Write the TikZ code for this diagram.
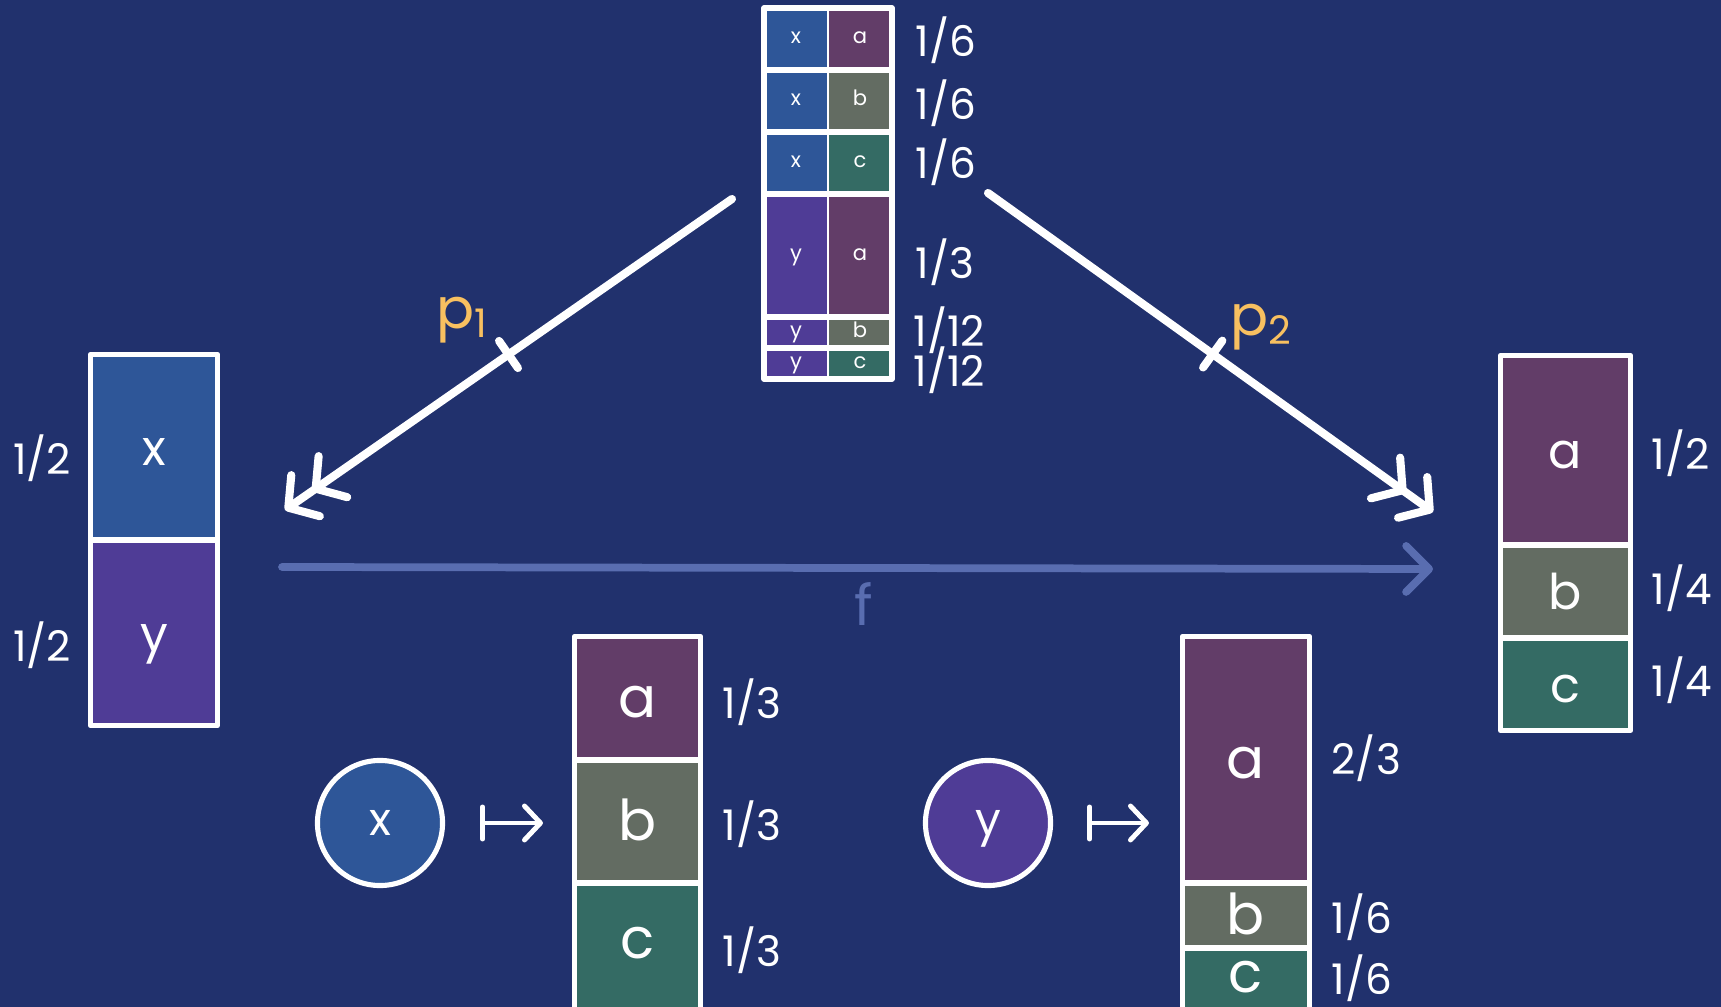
\documentclass[tikz,border=0pt]{standalone}
\usepackage{fontspec}
\setmainfont{Poppins}
\usetikzlibrary{arrows.meta,calc}
\definecolor{bgnavy}{HTML}{21316D}
\definecolor{cx}{HTML}{2E5698}
\definecolor{cy}{HTML}{4F3C96}
\definecolor{ca}{HTML}{623D68}
\definecolor{cb}{HTML}{636C62}
\definecolor{cc}{HTML}{346B64}
\definecolor{fblue}{HTML}{596DB0}
\definecolor{plabel}{HTML}{F8C060}
\tikzset{
  cell/.style={inner sep=0pt, outer sep=0pt, text=white, text depth=0pt},
  tinycell/.style={cell, text height=2.8pt, font=\fontsize{6}{7}\selectfont},
  midcell/.style={cell, text height=10.5pt, font=\fontsize{14}{16}\selectfont},
  bigcell/.style={cell, text height=10.8pt, font=\fontsize{16}{18}\selectfont},
  frac/.style={text=white, inner sep=0pt, font=\fontsize{12}{14}\selectfont},
  frame/.style={draw=white, line width=1.45pt, line join=round},
  divider/.style={draw=white, line width=1.7pt},
  thindiv/.style={draw=white, line width=0.6pt},
  dot/.style={circle, draw=white, line width=1.45pt, inner sep=0pt, outer sep=0pt,
    minimum size=1.25cm, text=white, text height=7.2pt, text depth=0pt,
    font=\fontsize{13}{15}\selectfont},
  mapsto/.style={draw=white, line width=1.4pt, line cap=round,
    {Bar[width=3.2mm,round]}-{Straight Barb[length=1.6mm,width=3.4mm,round]}},
  proj/.style={draw=white, line width=2.3pt, line cap=round,
    -{Straight Barb[length=2.1mm,width=5mm,round,sep=1.2pt] Straight Barb[length=2.1mm,width=5mm,round]}},
  tickmark/.style={draw=white, line width=2.3pt, line cap=round},
  fmap/.style={draw=fblue, line width=2.2pt, line cap=round,
    -{Straight Barb[length=2.3mm,width=4.6mm,round]}},
  plab/.style={text=plabel, font=\fontsize{16}{18}\selectfont, inner sep=0pt},
}
\begin{document}
\begin{tikzpicture}[x=0.01cm,y=-0.01cm]
\useasboundingbox (0,0) rectangle (1721,1007);
\fill[bgnavy] (0,0) rectangle (1721,1007);
\clip (0,0) rectangle (1721,1007);

% ---- joint distribution table (top) ----
\node[tinycell, fill=cx, minimum width=0.64cm, minimum height=0.62cm] (T1l) at (796,39) {x};
\node[tinycell, fill=ca, minimum width=0.64cm, minimum height=0.62cm] (T1r) at (860,39) {a};
\node[tinycell, fill=cx, minimum width=0.64cm, minimum height=0.62cm] (T2l) at (796,101) {x};
\node[tinycell, fill=cb, minimum width=0.64cm, minimum height=0.62cm] (T2r) at (860,101) {b};
\node[tinycell, fill=cx, minimum width=0.64cm, minimum height=0.62cm] (T3l) at (796,163) {x};
\node[tinycell, fill=cc, minimum width=0.64cm, minimum height=0.62cm] (T3r) at (860,163) {c};
\node[tinycell, fill=cy, minimum width=0.64cm, minimum height=1.23cm] (T4l) at (796,255.5) {y};
\node[tinycell, fill=ca, minimum width=0.64cm, minimum height=1.23cm] (T4r) at (860,255.5) {a};
\node[tinycell, fill=cy, minimum width=0.64cm, minimum height=0.31cm] (T5l) at (796,332.5) {y};
\node[tinycell, fill=cb, minimum width=0.64cm, minimum height=0.31cm] (T5r) at (860,332.5) {b};
\node[tinycell, fill=cy, minimum width=0.64cm, minimum height=0.31cm] (T6l) at (796,363.5) {y};
\node[tinycell, fill=cc, minimum width=0.64cm, minimum height=0.31cm] (T6r) at (860,363.5) {c};
\draw[thindiv] (T1l.north east) -- (T6l.south east);
\foreach \r in {1,...,5} {
  \draw[divider] (T\r l.south west) -- (T\r r.south east);
}
\draw[frame] (T1l.north west) rectangle (T6r.south east);
\node[frac, anchor=west] (tp1) at (915,40) {1/6};
\node[frac, anchor=west] (tp2) at (915,103) {1/6};
\node[frac, anchor=west] (tp3) at (915,162) {1/6};
\node[frac, anchor=west] (tp4) at (915,262) {1/3};
\node[frac, anchor=west] (tp5) at (913,330) {1/12};
\node[frac, anchor=west] (tp6) at (913,370) {1/12};

% ---- left marginal ----
\node[midcell, fill=cx, minimum width=1.27cm, minimum height=1.855cm] (Lx) at (154,447.25) {x};
\node[midcell, fill=cy, minimum width=1.27cm, minimum height=1.855cm] (Ly) at (154,632.75) {y};
\draw[divider] (Lx.south west) -- (Lx.south east);
\draw[frame] (Lx.north west) rectangle (Ly.south east);
\node[frac] (lp1) at (42,458) {1/2};
\node[frac] (lp2) at (42,645) {1/2};

% ---- right marginal ----
\node[midcell, fill=ca, minimum width=1.30cm, minimum height=1.895cm] (Ra) at (1565.5,450.25) {a};
\node[midcell, fill=cb, minimum width=1.30cm, minimum height=0.93cm] (Rb) at (1565.5,591.5) {b};
\node[midcell, fill=cc, minimum width=1.30cm, minimum height=0.925cm] (Rc) at (1565.5,684.25) {c};
\draw[divider] (Ra.south west) -- (Ra.south east);
\draw[divider] (Rb.south west) -- (Rb.south east);
\draw[frame] (Ra.north west) rectangle (Rc.south east);
\node[frac, anchor=west] (rp1) at (1651,453) {1/2};
\node[frac, anchor=west] (rp2) at (1651,588) {1/4};
\node[frac, anchor=west] (rp3) at (1651,680) {1/4};

% ---- kernel at x ----
\node[bigcell, fill=ca, minimum width=1.26cm, minimum height=1.235cm] (Xa) at (637.5,698.25) {a};
\node[bigcell, fill=cb, minimum width=1.26cm, minimum height=1.23cm] (Xb) at (637.5,821.5) {b};
\node[bigcell, fill=cc, minimum width=1.26cm, minimum height=1.14cm] (Xc) at (637.5,940) {c};
\fill[cc] (Xc.south west) rectangle ([yshift=-3mm]Xc.south east);
\draw[divider] (Xa.south west) -- (Xa.south east);
\draw[divider] (Xb.south west) -- (Xb.south east);
\draw[frame] ([yshift=-3mm]Xc.south west) -- (Xa.north west) -- (Xa.north east) -- ([yshift=-3mm]Xc.south east);
\node[frac, anchor=west] (xp1) at (722,702) {1/3};
\node[frac, anchor=west] (xp2) at (722,824) {1/3};
\node[frac, anchor=west] (xp3) at (722,950) {1/3};
\node[dot, fill=cx] (Cx) at (380,823) {x};
\draw[mapsto, shorten <=3.75mm, shorten >=3.15mm] (Cx.east) -- (Cx.east -| Xb.west);

% ---- kernel at y ----
\node[bigcell, fill=ca, minimum width=1.27cm, minimum height=2.465cm] (Ya) at (1246,759.75) {a};
\node[bigcell, fill=cb, minimum width=1.27cm, minimum height=0.65cm] (Yb) at (1246,915.5) {b};
\node[bigcell, fill=cc, minimum width=1.27cm, minimum height=0.52cm] (Yc) at (1246,974) {c};
\fill[cc] (Yc.south west) rectangle ([yshift=-3mm]Yc.south east);
\draw[divider] (Ya.south west) -- (Ya.south east);
\draw[divider] (Yb.south west) -- (Yb.south east);
\draw[frame] ([yshift=-3mm]Yc.south west) -- (Ya.north west) -- (Ya.north east) -- ([yshift=-3mm]Yc.south east);
\node[frac, anchor=west] (yp1) at (1331,758) {2/3};
\node[frac, anchor=west] (yp2) at (1331,917) {1/6};
\node[frac, anchor=west] (yp3) at (1331,978) {1/6};
\node[dot, fill=cy] (Cy) at (988,823) {y};
\draw[mapsto, shorten <=3.65mm, shorten >=3.35mm] (Cy.east) -- (Cy.east -| Ya.west);

% ---- projections ----
\coordinate (p1s) at (732,199);
\coordinate (p1e) at (285,510);
\draw[proj] (p1s) -- (p1e);
\coordinate (p1m) at ($(p1s)!0.5!(p1e)$);
\draw[tickmark] ($(p1m)!1.65mm!90:(p1e)$) -- ($(p1m)!1.65mm!-90:(p1e)$);
\node[plab] (p1lab) at (463,320) {p\textsubscript{1}};

\coordinate (p2s) at (988,193);
\coordinate (p2e) at (1433,512);
\draw[proj] (p2s) -- (p2e);
\coordinate (p2m) at ($(p2s)!0.505!(p2e)$);
\draw[tickmark] ($(p2m)!1.65mm!90:(p2e)$) -- ($(p2m)!1.65mm!-90:(p2e)$);
\node[plab] (p2lab) at (1262,327) {p\textsubscript{2}};

% ---- induced map ----
\coordinate (fs) at (282,567);
\coordinate (fe) at (1433,569);
\draw[fmap] (fs) -- (fe);
\node[text=fblue, inner sep=0pt, font=\fontsize{16}{18}\selectfont] (flab) at (864,604) {f};
\end{tikzpicture}
\end{document}
